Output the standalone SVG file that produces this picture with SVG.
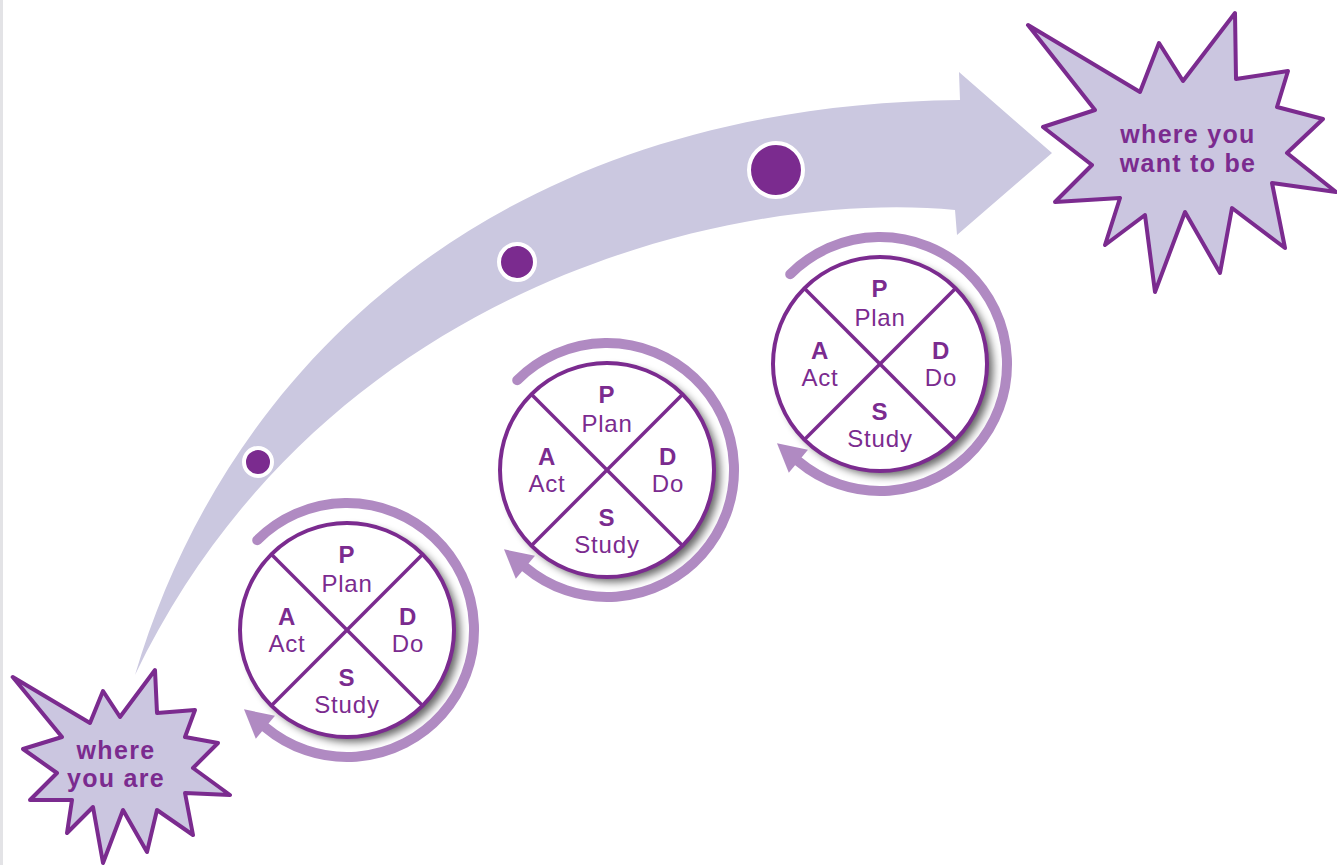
<svg xmlns="http://www.w3.org/2000/svg" width="1337" height="865" viewBox="0 0 1337 865">
<style>
.lbl{font-family:"Liberation Sans",Arial,sans-serif;font-size:24px;letter-spacing:0.8px;fill:#7B2B8F;text-anchor:middle}
.b{font-weight:bold}
.star{fill:#CBC6E0;stroke:#7B2B8F;stroke-width:4;stroke-linejoin:round}
.stxt{font-family:"Liberation Sans",Arial,sans-serif;font-size:25px;font-weight:bold;letter-spacing:1.3px;fill:#7B2B8F;text-anchor:middle}
.ring{fill:none;stroke:#B08AC2;stroke-width:10;stroke-linecap:round}
.head{fill:#B08AC2}
.disc{fill:#fff;stroke:#7B2B8F;stroke-width:4}
.cross{stroke:#7B2B8F;stroke-width:3.5}
.dot{fill:#7B2B8F;stroke:#fff;stroke-width:4}
</style>
<defs>
<filter id="sh" x="-30%" y="-30%" width="160%" height="160%">
<feGaussianBlur stdDeviation="4"/>
</filter>
</defs>
<rect x="0" y="0" width="1337" height="865" fill="#fff"/>
<rect x="0" y="0" width="3" height="865" fill="#E3E3E6"/>
<g id="connectors">
<path d="M135,675 C225,370 490,105 960,100 L959,72 L1052,153 L957,235 L955,210 C760,190 330,270 135,675 Z" fill="#CBC8E0"/>
</g>
<g id="dot1"><circle class="dot" cx="258" cy="462" r="14"/></g>
<g id="dot2"><circle class="dot" cx="517" cy="262" r="18"/></g>
<g id="dot3"><circle class="dot" cx="776" cy="170" r="27"/></g>
<g id="pdsa1" transform="translate(347,630)">
<circle cx="6" cy="5" r="107" fill="#000" opacity="0.6" filter="url(#sh)"/>
<path class="ring" d="M-89.8,-89.8 A127,127 0 1 1 -81.6,97.3"/>
<polygon class="head" points="-103,79.3 -91.2,108.8 -72,85.8"/>
<circle class="disc" r="107"/>
<line class="cross" x1="-75.7" y1="-75.7" x2="75.7" y2="75.7"/>
<line class="cross" x1="75.7" y1="-75.7" x2="-75.7" y2="75.7"/>
<text class="lbl"><tspan class="b" x="0" y="-67">P</tspan><tspan x="0" dy="29">Plan</tspan></text>
<text class="lbl"><tspan class="b" x="-60" y="-5">A</tspan><tspan x="-60" dy="27">Act</tspan></text>
<text class="lbl"><tspan class="b" x="61" y="-5">D</tspan><tspan x="61" dy="27">Do</tspan></text>
<text class="lbl"><tspan class="b" x="0" y="56">S</tspan><tspan x="0" dy="27">Study</tspan></text>
</g>
<g id="pdsa2" transform="translate(607,470)">
<circle cx="6" cy="5" r="107" fill="#000" opacity="0.6" filter="url(#sh)"/>
<path class="ring" d="M-89.8,-89.8 A127,127 0 1 1 -81.6,97.3"/>
<polygon class="head" points="-103,79.3 -91.2,108.8 -72,85.8"/>
<circle class="disc" r="107"/>
<line class="cross" x1="-75.7" y1="-75.7" x2="75.7" y2="75.7"/>
<line class="cross" x1="75.7" y1="-75.7" x2="-75.7" y2="75.7"/>
<text class="lbl"><tspan class="b" x="0" y="-67">P</tspan><tspan x="0" dy="29">Plan</tspan></text>
<text class="lbl"><tspan class="b" x="-60" y="-5">A</tspan><tspan x="-60" dy="27">Act</tspan></text>
<text class="lbl"><tspan class="b" x="61" y="-5">D</tspan><tspan x="61" dy="27">Do</tspan></text>
<text class="lbl"><tspan class="b" x="0" y="56">S</tspan><tspan x="0" dy="27">Study</tspan></text>
</g>
<g id="pdsa3" transform="translate(880,364)">
<circle cx="6" cy="5" r="107" fill="#000" opacity="0.6" filter="url(#sh)"/>
<path class="ring" d="M-89.8,-89.8 A127,127 0 1 1 -81.6,97.3"/>
<polygon class="head" points="-103,79.3 -91.2,108.8 -72,85.8"/>
<circle class="disc" r="107"/>
<line class="cross" x1="-75.7" y1="-75.7" x2="75.7" y2="75.7"/>
<line class="cross" x1="75.7" y1="-75.7" x2="-75.7" y2="75.7"/>
<text class="lbl"><tspan class="b" x="0" y="-67">P</tspan><tspan x="0" dy="29">Plan</tspan></text>
<text class="lbl"><tspan class="b" x="-60" y="-5">A</tspan><tspan x="-60" dy="27">Act</tspan></text>
<text class="lbl"><tspan class="b" x="61" y="-5">D</tspan><tspan x="61" dy="27">Do</tspan></text>
<text class="lbl"><tspan class="b" x="0" y="56">S</tspan><tspan x="0" dy="27">Study</tspan></text>
</g>
<g id="start">
<polygon class="star" points="12.7,677 90,723 103,691 120,717 155,670 157,713 195,710 185,737 218,743 193,768 230,795 185,793 193,835 157,810 147,852 123,810 103,863 93,807 67,833 72,800 30,800 57,773 23,749 62,737"/>
<text class="stxt"><tspan x="116" y="759">where</tspan><tspan x="116" dy="28">you are</tspan></text>
</g>
<g id="goal">
<polygon class="star" points="1028,25 1140,92 1159,43 1183,81 1235,13 1236,79 1288,71 1277,107 1323,119 1287,153 1336,192 1272,183 1285,248 1232,208 1220,273 1185,212 1155,292 1145,215 1105,245 1120,198 1055,202 1092,165 1043,127 1095,110"/>
<text class="stxt"><tspan x="1188" y="143">where you</tspan><tspan x="1188" dy="29">want to be</tspan></text>
</g>
</svg>
